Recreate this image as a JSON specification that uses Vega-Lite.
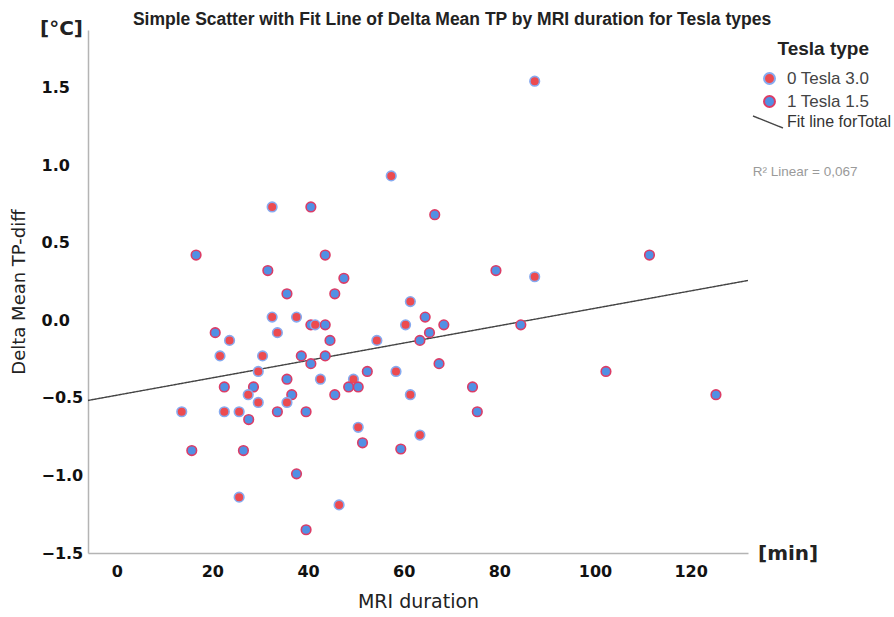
{
  "$schema": "https://vega.github.io/schema/vega-lite/v6.json",
  "width": 660,
  "height": 523,
  "autosize": {"type": "none"},
  "padding": {"left": 88, "top": 30, "right": 146, "bottom": 64},
  "background": "white",
  "title": {
    "text": "Simple Scatter with Fit Line of Delta Mean TP by MRI duration for Tesla types",
    "font": "Liberation Sans",
    "fontSize": 17.5,
    "fontWeight": "bold",
    "color": "#222222",
    "anchor": "middle",
    "dx": 34,
    "offset": -9
  },
  "config": {
    "view": {"stroke": null},
    "axis": {"grid": false, "ticks": false, "domainColor": "#b4b4b4", "domainWidth": 1.5}
  },
  "data": {
    "values": [
      {"duration": 32.5, "delta": 0.73, "type": "0 Tesla 3.0"},
      {"duration": 40.6, "delta": 0.73, "type": "1 Tesla 1.5"},
      {"duration": 16.6, "delta": 0.42, "type": "1 Tesla 1.5"},
      {"duration": 43.6, "delta": 0.42, "type": "1 Tesla 1.5"},
      {"duration": 31.6, "delta": 0.32, "type": "1 Tesla 1.5"},
      {"duration": 47.5, "delta": 0.27, "type": "1 Tesla 1.5"},
      {"duration": 35.6, "delta": 0.17, "type": "1 Tesla 1.5"},
      {"duration": 45.6, "delta": 0.17, "type": "1 Tesla 1.5"},
      {"duration": 32.5, "delta": 0.02, "type": "0 Tesla 3.0"},
      {"duration": 37.6, "delta": 0.02, "type": "0 Tesla 3.0"},
      {"duration": 40.6, "delta": -0.03, "type": "1 Tesla 1.5"},
      {"duration": 41.5, "delta": -0.03, "type": "0 Tesla 3.0"},
      {"duration": 43.6, "delta": -0.03, "type": "1 Tesla 1.5"},
      {"duration": 20.6, "delta": -0.08, "type": "1 Tesla 1.5"},
      {"duration": 23.6, "delta": -0.13, "type": "0 Tesla 3.0"},
      {"duration": 33.6, "delta": -0.08, "type": "0 Tesla 3.0"},
      {"duration": 44.6, "delta": -0.13, "type": "1 Tesla 1.5"},
      {"duration": 54.4, "delta": -0.13, "type": "0 Tesla 3.0"},
      {"duration": 21.6, "delta": -0.23, "type": "0 Tesla 3.0"},
      {"duration": 30.5, "delta": -0.23, "type": "0 Tesla 3.0"},
      {"duration": 38.6, "delta": -0.23, "type": "1 Tesla 1.5"},
      {"duration": 43.6, "delta": -0.23, "type": "1 Tesla 1.5"},
      {"duration": 40.6, "delta": -0.28, "type": "1 Tesla 1.5"},
      {"duration": 29.6, "delta": -0.33, "type": "0 Tesla 3.0"},
      {"duration": 52.4, "delta": -0.33, "type": "1 Tesla 1.5"},
      {"duration": 22.5, "delta": -0.43, "type": "1 Tesla 1.5"},
      {"duration": 28.6, "delta": -0.43, "type": "1 Tesla 1.5"},
      {"duration": 35.6, "delta": -0.38, "type": "1 Tesla 1.5"},
      {"duration": 42.6, "delta": -0.38, "type": "0 Tesla 3.0"},
      {"duration": 49.5, "delta": -0.38, "type": "0 Tesla 3.0"},
      {"duration": 48.5, "delta": -0.43, "type": "1 Tesla 1.5"},
      {"duration": 50.5, "delta": -0.43, "type": "1 Tesla 1.5"},
      {"duration": 27.5, "delta": -0.48, "type": "0 Tesla 3.0"},
      {"duration": 36.6, "delta": -0.48, "type": "1 Tesla 1.5"},
      {"duration": 45.6, "delta": -0.48, "type": "1 Tesla 1.5"},
      {"duration": 29.6, "delta": -0.53, "type": "0 Tesla 3.0"},
      {"duration": 35.6, "delta": -0.53, "type": "0 Tesla 3.0"},
      {"duration": 13.6, "delta": -0.59, "type": "0 Tesla 3.0"},
      {"duration": 22.5, "delta": -0.59, "type": "0 Tesla 3.0"},
      {"duration": 25.6, "delta": -0.59, "type": "0 Tesla 3.0"},
      {"duration": 33.6, "delta": -0.59, "type": "1 Tesla 1.5"},
      {"duration": 39.6, "delta": -0.59, "type": "1 Tesla 1.5"},
      {"duration": 27.6, "delta": -0.64, "type": "1 Tesla 1.5"},
      {"duration": 50.5, "delta": -0.69, "type": "0 Tesla 3.0"},
      {"duration": 51.4, "delta": -0.79, "type": "1 Tesla 1.5"},
      {"duration": 15.7, "delta": -0.84, "type": "1 Tesla 1.5"},
      {"duration": 26.5, "delta": -0.84, "type": "1 Tesla 1.5"},
      {"duration": 37.6, "delta": -0.99, "type": "1 Tesla 1.5"},
      {"duration": 25.6, "delta": -1.14, "type": "0 Tesla 3.0"},
      {"duration": 46.5, "delta": -1.19, "type": "0 Tesla 3.0"},
      {"duration": 39.6, "delta": -1.35, "type": "1 Tesla 1.5"},
      {"duration": 57.4, "delta": 0.93, "type": "0 Tesla 3.0"},
      {"duration": 66.5, "delta": 0.68, "type": "1 Tesla 1.5"},
      {"duration": 111.4, "delta": 0.42, "type": "1 Tesla 1.5"},
      {"duration": 79.3, "delta": 0.32, "type": "1 Tesla 1.5"},
      {"duration": 87.4, "delta": 0.28, "type": "0 Tesla 3.0"},
      {"duration": 61.4, "delta": 0.12, "type": "0 Tesla 3.0"},
      {"duration": 64.5, "delta": 0.02, "type": "1 Tesla 1.5"},
      {"duration": 60.4, "delta": -0.03, "type": "0 Tesla 3.0"},
      {"duration": 68.4, "delta": -0.03, "type": "1 Tesla 1.5"},
      {"duration": 65.4, "delta": -0.08, "type": "1 Tesla 1.5"},
      {"duration": 84.5, "delta": -0.03, "type": "1 Tesla 1.5"},
      {"duration": 63.4, "delta": -0.13, "type": "1 Tesla 1.5"},
      {"duration": 67.4, "delta": -0.28, "type": "1 Tesla 1.5"},
      {"duration": 58.4, "delta": -0.33, "type": "0 Tesla 3.0"},
      {"duration": 102.3, "delta": -0.33, "type": "1 Tesla 1.5"},
      {"duration": 74.4, "delta": -0.43, "type": "1 Tesla 1.5"},
      {"duration": 61.4, "delta": -0.48, "type": "0 Tesla 3.0"},
      {"duration": 75.4, "delta": -0.59, "type": "1 Tesla 1.5"},
      {"duration": 63.4, "delta": -0.74, "type": "0 Tesla 3.0"},
      {"duration": 59.4, "delta": -0.83, "type": "1 Tesla 1.5"},
      {"duration": 87.4, "delta": 1.54, "type": "0 Tesla 3.0"},
      {"duration": 125.3, "delta": -0.48, "type": "1 Tesla 1.5"}
    ]
  },
  "layer": [
    {
      "data": {
        "values": [
          {"duration": -6, "delta": -0.517, "series": "Fit line forTotal"},
          {"duration": 132, "delta": 0.256, "series": "Fit line forTotal"}
        ]
      },
      "mark": {"type": "line", "color": "#444444", "strokeWidth": 1.4},
      "encoding": {
        "x": {
          "field": "duration", "type": "quantitative",
          "scale": {"domain": [-6, 132], "nice": false, "zero": false},
          "axis": {
            "title": "MRI duration",
            "titleFont": "DejaVu Sans", "titleFontSize": 19, "titleFontWeight": "normal", "titleColor": "#222222",
            "titlePadding": 13,
            "values": [0, 20, 40, 60, 80, 100, 120],
            "labelFont": "DejaVu Sans", "labelFontSize": 16, "labelFontWeight": "bold", "labelColor": "#111111",
            "labelPadding": 10, "labelFlush": false
          }
        },
        "y": {
          "field": "delta", "type": "quantitative",
          "scale": {"domain": [-1.5, 1.87], "nice": false, "zero": false},
          "axis": {
            "title": "Delta Mean TP-diff",
            "titleFont": "DejaVu Sans", "titleFontSize": 18, "titleFontWeight": "normal", "titleColor": "#222222",
            "titlePadding": 13,
            "values": [-1.5, -1, -0.5, 0, 0.5, 1, 1.5],
            "format": ".1f",
            "labelFont": "DejaVu Sans", "labelFontSize": 16, "labelFontWeight": "bold", "labelColor": "#111111",
            "labelAlign": "left", "labelPadding": 47
          }
        },
        "strokeDash": {
          "field": "series", "type": "nominal",
          "scale": {"range": [[1, 0]]},
          "legend": {
            "title": null,
            "orient": "none", "legendX": 664, "legendY": 76,
            "symbolType": "M-1,-0.4L1,0.4",
            "symbolSize": 900,
            "symbolStrokeColor": "#444444",
            "symbolStrokeWidth": 1.4,
            "labelFont": "Liberation Sans", "labelFontSize": 16, "labelColor": "#333333",
            "labelOffset": 3
          }
        }
      }
    },
    {
      "mark": {"type": "point", "shape": "circle", "filled": true, "size": 92, "strokeWidth": 1.6, "opacity": 1},
      "encoding": {
        "x": {"field": "duration", "type": "quantitative"},
        "y": {"field": "delta", "type": "quantitative"},
        "fill": {
          "field": "type", "type": "nominal",
          "scale": {"domain": ["0 Tesla 3.0", "1 Tesla 1.5"], "range": ["#ec4b50", "#5190e4"]},
          "legend": {
            "title": "Tesla type",
            "orient": "none", "legendX": 673, "legendY": 10,
            "titleFont": "Liberation Sans", "titleFontSize": 19, "titleFontWeight": "bold", "titleColor": "#222222",
            "titleAnchor": "end", "titlePadding": 11,
            "symbolSize": 120, "symbolStrokeWidth": 2, "symbolType": "circle",
            "labelFont": "Liberation Sans", "labelFontSize": 17, "labelColor": "#444444",
            "labelOffset": 9, "rowPadding": 4
          }
        },
        "stroke": {
          "field": "type", "type": "nominal",
          "scale": {"domain": ["0 Tesla 3.0", "1 Tesla 1.5"], "range": ["#86aaf0", "#dc3c66"]},
          "legend": {
            "title": "Tesla type",
            "orient": "none", "legendX": 673, "legendY": 10,
            "titleFont": "Liberation Sans", "titleFontSize": 19, "titleFontWeight": "bold", "titleColor": "#222222",
            "titleAnchor": "end", "titlePadding": 11,
            "symbolSize": 120, "symbolStrokeWidth": 2, "symbolType": "circle",
            "labelFont": "Liberation Sans", "labelFontSize": 17, "labelColor": "#444444",
            "labelOffset": 9, "rowPadding": 4
          }
        }
      }
    },
    {
      "data": {"values": [{"label": "[min]"}]},
      "mark": {"type": "text", "align": "left", "baseline": "middle", "font": "DejaVu Sans", "fontSize": 20, "fontWeight": "bold", "color": "#222222", "dx": 10, "dy": 1},
      "encoding": {
        "x": {"datum": 132},
        "y": {"datum": -1.5},
        "text": {"field": "label"}
      }
    },
    {
      "data": {"values": [{"label": "[°C]"}]},
      "mark": {"type": "text", "align": "right", "baseline": "middle", "font": "DejaVu Sans", "fontSize": 20, "fontWeight": "bold", "color": "#222222", "dx": -5, "dy": -1},
      "encoding": {
        "x": {"datum": -6},
        "y": {"datum": 1.87},
        "text": {"field": "label"}
      }
    },
    {
      "data": {"values": [{"label": "R² Linear = 0,067"}]},
      "mark": {"type": "text", "align": "left", "baseline": "middle", "font": "Liberation Sans", "fontSize": 13.5, "color": "#9a9a9a"},
      "encoding": {
        "x": {"datum": 133},
        "y": {"datum": 0.955},
        "text": {"field": "label"}
      }
    }
  ]
}
